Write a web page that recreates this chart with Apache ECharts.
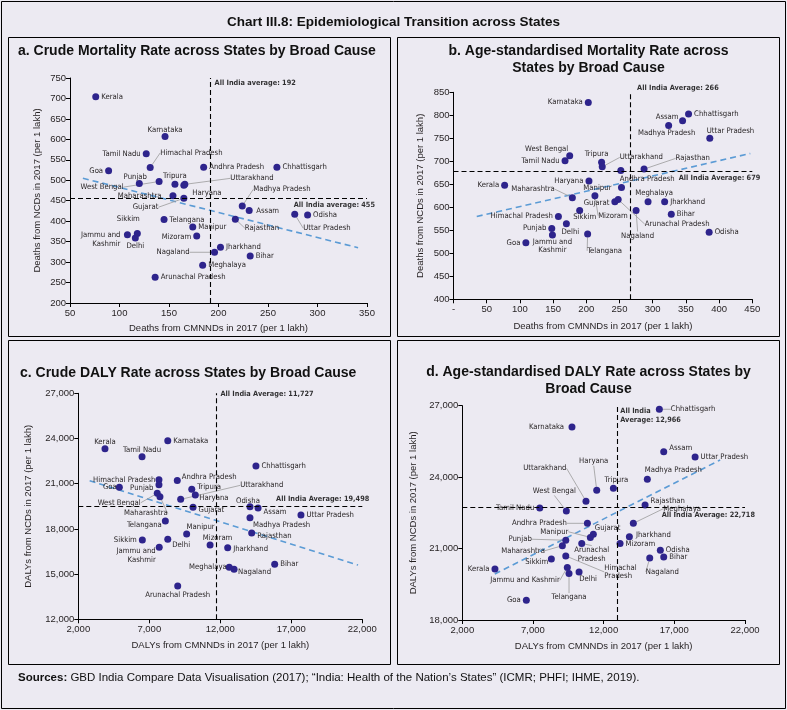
<!DOCTYPE html>
<html><head><meta charset="utf-8">
<script src="https://cdn.jsdelivr.net/npm/echarts/dist/echarts.min.js"></script>
<style>html,body{margin:0;padding:0;background:#eceaf2;}#c{width:787px;height:710px;}</style>
</head><body><div id="c"></div>
<script>
// ---------- DATA ----------
const states = ['Kerala','Karnataka','Tamil Nadu','Himachal Pradesh','Goa','Punjab','West Bengal','Tripura','Haryana','Uttarakhand','Maharashtra','Gujarat','Andhra Pradesh','Chhattisgarh','Madhya Pradesh','Assam','Odisha','Uttar Pradesh','Telangana','Manipur','Rajasthan','Sikkim','Jammu and Kashmir','Delhi','Mizoram','Jharkhand','Nagaland','Bihar','Meghalaya','Arunachal Pradesh'];

// a. Crude mortality (per 1 lakh)
const crudeDeathCMNND = [76,146,127,131,89,120,140,156,165,166,154,165,185,259,224,231,290,277,145,174,217,118,108,116,178,202,196,232,184,136];
const crudeDeathNCD   = [704,607,565,531,523,492,497,490,488,490,462,456,532,532,437,426,415,417,404,386,405,370,367,359,364,336,324,315,292,263];
// b. Age-standardised mortality
const ageDeathCMNND = [77,203,168,158,109,148,175,223,204,224,179,243,252,354,324,345,385,386,202,253,287,190,149,170,213,318,275,328,293,248];
const ageDeathNCD   = [648,828,701,580,523,554,712,698,657,688,621,612,680,803,778,788,546,750,542,643,683,593,540,564,625,612,593,585,612,617];
// c. Crude DALY rate
const crudeDalyCMNND = [3880,8300,6490,7680,4890,7680,7560,9990,10240,9210,7750,10080,8970,14510,14090,14660,14090,17680,8130,9630,14210,6510,7700,8300,11280,12520,12970,15830,12630,9000];
const crudeDalyNCD   = [23320,23850,22790,21260,20760,20930,20360,20630,20250,19960,20140,19430,21220,22170,18740,19390,19470,18920,18520,17660,17730,17260,16780,17310,16930,16750,15320,15650,15450,14210];
// d. Age-standardised DALY rate
const ageDalyCMNND = [4310,9760,7480,9320,6530,9320,9360,12690,11510,10750,9080,11270,10850,15940,15090,16250,16010,18470,9550,11060,14930,8300,9430,10260,13160,13820,15260,16250,14100,10450];
const ageDalyNCD   = [20140,26110,22700,20690,18830,21350,22580,23530,23450,22990,21120,21600,22060,26850,23910,25070,20930,24850,19950,21470,22830,20560,20210,20020,21210,21500,20600,20650,22060,21210];

// All India averages [CMNND, NCD]
const avgA = [192, 455];
const avgB = [266, 679];
const avgC = [11727, 19498];
const avgD = [12966, 22718];

// Trend line end points
const trendA = [[63,505],[341,335]];
const trendB = [[35,580],[447,717]];
const trendC = [[2800,21200],[21700,15600]];
const trendD = [[4300,19930],[20240,24720]];

// Axis scales [min, max, interval]
const xScaleA = [50,350,50],   yScaleA = [200,750,50];
const xScaleB = [0,450,50],    yScaleB = [400,850,50];
const xScaleC = [2000,22000,5000], yScaleC = [12000,27000,3000];
const xScaleD = [2000,22000,5000], yScaleD = [18000,27000,3000];

// ---------- LABEL PLACEMENT (style) ----------
const LA = {'Kerala':['right'],'Karnataka':['top',0,3.5],'Tamil Nadu':['left'],'Himachal Pradesh':['right',4.5,-14.7,1],'Goa':['left'],'Punjab':['top',-4,3],'West Bengal':['left',-30,5.6,1],'Tripura':['top',0,1],'Haryana':['right',3,7.5],'Uttarakhand':['right',40,-6,1],'Maharashtra':['left',-6,0],'Gujarat':['left',-20,9,1],'Andhra Pradesh':['right'],'Chhattisgarh':['right'],'Madhya Pradesh':['right',5.5,-16.7,1],'Assam':['right',1.5,0],'Odisha':['right'],'Uttar Pradesh':['right',3,14,1],'Telangana':['right'],'Manipur':['right'],'Rajasthan':['right',4,9,1],'Sikkim':['top',-9,-4.5],'Jammu and Kashmir':['left',-1.5,5],'Delhi':['bottom',0,-2],'Mizoram':['left',0,1.5],'Jharkhand':['right'],'Nagaland':['left',-19.5,0,1],'Bihar':['right'],'Meghalaya':['right'],'Arunachal Pradesh':['right']};
const LB = {'Kerala':['left'],'Karnataka':['left'],'Tamil Nadu':['left'],'West Bengal':['left',4,-6.4],'Haryana':['left'],'Maharashtra':['left',-12,-8.4,1],'Tripura':['top',-5,2],'Uttarakhand':['right',12,-9.4,1],'Andhra Pradesh':['right',-6.5,8.3],'Manipur':['left',-4.5,0],'Rajasthan':['right',26,-10.7,1],'Meghalaya':['top',6,1.5],'Jharkhand':['right'],'Gujarat':['left',0,1],'Mizoram':['bottom',18,10,1],'Arunachal Pradesh':['right',21,24.6,1],'Nagaland':['bottom',1.5,15.5,1],'Chhattisgarh':['right'],'Assam':['left',1.5,-4],'Madhya Pradesh':['bottom',-2,-2],'Uttar Pradesh':['top',20.7,3],'Bihar':['right'],'Odisha':['right'],'Himachal Pradesh':['left'],'Sikkim':['bottom',5,-3],'Delhi':['bottom',4,-2],'Punjab':['left'],'Jammu and Kashmir':['bottom',0,-3],'Goa':['left'],'Telangana':['bottom',17,7,1]};
const LC = {'Kerala':['top',0,3],'Karnataka':['right'],'Tamil Nadu':['top',0,3],'Himachal Pradesh':['left',2,0],'Punjab':['left',0,3],'Goa':['left',3,0],'Andhra Pradesh':['right',-1,-3],'West Bengal':['left',-11,9.4,1],'Maharashtra':['bottom',-14,7,1],'Tripura':['right',0,-2.6],'Haryana':['right',-1.5,3],'Uttarakhand':['right',54,-14,1],'Gujarat':['right',0,3],'Chhattisgarh':['right'],'Odisha':['top',-2,4],'Assam':['right',0,4],'Uttar Pradesh':['right'],'Telangana':['left',2,4],'Manipur':['top',14,3],'Mizoram':['top',7.5,3],'Madhya Pradesh':['right',-2.5,7],'Rajasthan':['right',0,3],'Jharkhand':['right',0,1],'Sikkim':['left'],'Delhi':['right',-1,6],'Jammu and Kashmir':['left',2,8],'Meghalaya':['left',3,0],'Nagaland':['right',-1.5,3],'Bihar':['right'],'Arunachal Pradesh':['bottom',0,-1]};
const LD = {'Karnataka':['left',-2.5,0],'Haryana':['top',-3,-19,1],'Uttarakhand':['left',-14,-33,1],'West Bengal':['top',-12,-10,1],'Tamil Nadu':['left'],'Andhra Pradesh':['left',-15,0,1],'Chhattisgarh':['right',6,0,1],'Assam':['right',0,-3.4],'Uttar Pradesh':['right'],'Madhya Pradesh':['top',26,1],'Tripura':['top',3,1.5],'Rajasthan':['right',0,-4.3],'Meghalaya':['right',24.5,-14.6,1],'Gujarat':['right',-4,-6],'Manipur':['left',-16.5,-5.6,1],'Punjab':['left',-28.5,-1,1],'Maharashtra':['left',-12,5,1],'Jharkhand':['right',1,-2],'Mizoram':['right'],'Arunachal Pradesh':['bottom',10,-3.5,1],'Odisha':['right'],'Bihar':['right'],'Nagaland':['bottom',12.6,4,1],'Sikkim':['left',2.5,3],'Himachal Pradesh':['right',33,16,1],'Jammu and Kashmir':['left',-2,13,1],'Telangana':['bottom',0,14,1],'Delhi':['bottom',9,-2.5],'Kerala':['left'],'Goa':['left']};

const jk2 = {'Jammu and Kashmir':'Jammu and\nKashmir'};
const fmtComma = v => Number(v).toLocaleString('en-US');

const LABEL_FONT = "'Liberation Sans Narrow','Arial Narrow','DejaVu Sans Condensed',sans-serif";
const AXIS_FONT = "'Liberation Sans',Arial,sans-serif";
const INK = '#231f20';
const DOT = '#2e248c';
const TREND = '#5b9bd5';

const panels = [
  {xs:crudeDeathCMNND, ys:crudeDeathNCD, trend:trendA, avg:avgA, xs_:xScaleA, ys_:yScaleA, layout:LA, text:jk2,
   vText:'All India average: '+avgA[0], hText:'All India average: '+avgA[1], vOff:[2,5], hOff:[10,6],
   grid:{left:70,top:78,width:297,height:225}, xFmt:v=>v, yFmt:v=>v,
   xName:'Deaths from CMNNDs in 2017 (per 1 lakh)', yName:'Deaths from NCDs in 2017 (per 1 lakh)', xGap:20, yGap:28},
  {xs:ageDeathCMNND, ys:ageDeathNCD, trend:trendB, avg:avgB, xs_:xScaleB, ys_:yScaleB, layout:LB, text:jk2,
   vText:'All India Average: '+avgB[0], hText:'All India Average: '+avgB[1], vOff:[5,-4], hOff:[10,7],
   grid:{left:453.5,top:92.3,width:298.8,height:207}, xFmt:v=>(v===0?'-':v), yFmt:v=>v,
   xName:'Deaths from CMNNDs in 2017 (per 1 lakh)', yName:'Deaths from NCDs in 2017 (per 1 lakh)', xGap:22, yGap:28},
  {xs:crudeDalyCMNND, ys:crudeDalyNCD, trend:trendC, avg:avgC, xs_:xScaleC, ys_:yScaleC, layout:LC, text:jk2,
   vText:'All India Average: '+fmtComma(avgC[0]), hText:'All India Average: '+fmtComma(avgC[1]), vOff:[2,1], hOff:[9,-7],
   grid:{left:78.3,top:393.3,width:284,height:226}, xFmt:fmtComma, yFmt:fmtComma,
   xName:'DALYs from CMNNDs in 2017 (per 1 lakh)', yName:'DALYs from NCDs in 2017 (per 1 lakh)', xGap:21, yGap:45},
  {xs:ageDalyCMNND, ys:ageDalyNCD, trend:trendD, avg:avgD, xs_:xScaleD, ys_:yScaleD, layout:LD,
   text:{'Arunachal Pradesh':'Arunachal\nPradesh','Himachal Pradesh':'Himachal\nPradesh'},
   vText:'All India\nAverage: '+fmtComma(avgD[0]), hText:'All India Average: '+fmtComma(avgD[1]), vOff:[1,10], hOff:[12,7],
   grid:{left:462.3,top:405.7,width:282.7,height:214.3}, xFmt:fmtComma, yFmt:fmtComma,
   xName:'DALYs from CMNNDs in 2017 (per 1 lakh)', yName:'DALYs from NCDs in 2017 (per 1 lakh)', xGap:21, yGap:44}
];

const grid=[], xAxis=[], yAxis=[], series=[];
const axisCommon = {
  axisLine:{show:true, onZero:false, lineStyle:{color:'#000', width:1}},
  axisTick:{show:true, length:4, lineStyle:{color:'#000'}},
  splitLine:{show:false},
  nameLocation:'middle',
  nameTextStyle:{fontSize:9.5, fontFamily:AXIS_FONT, color:INK}
};
panels.forEach((p,k)=>{
  grid.push(Object.assign({containLabel:false}, p.grid));
  xAxis.push(Object.assign({}, axisCommon, {gridIndex:k, type:'value', min:p.xs_[0], max:p.xs_[1], interval:p.xs_[2],
    name:p.xName, nameGap:p.xGap,
    axisLabel:{fontSize:9.5, fontFamily:AXIS_FONT, color:INK, margin:5, formatter:p.xFmt}}));
  yAxis.push(Object.assign({}, axisCommon, {gridIndex:k, type:'value', min:p.ys_[0], max:p.ys_[1], interval:p.ys_[2],
    name:p.yName, nameGap:p.yGap, nameRotate:90,
    axisLabel:{fontSize:9.5, fontFamily:AXIS_FONT, color:INK, margin:4, formatter:p.yFmt}}));
  // trend + average lines
  series.push({type:'line', xAxisIndex:k, yAxisIndex:k, data:p.trend, symbol:'none', silent:true, z:2,
    lineStyle:{color:TREND, width:1.6, type:[6,4]},
    markLine:{silent:true, symbol:['none','none'], label:{show:false}, animation:false,
      lineStyle:{color:'#000', width:1.1, type:[5,3]},
      data:[{xAxis:p.avg[0]},{yAxis:p.avg[1]}]}});
  // states
  series.push({type:'scatter', xAxisIndex:k, yAxisIndex:k, symbolSize:7, z:3,
    itemStyle:{color:DOT, opacity:1},
    data:states.map((n,i)=>{
      const l = p.layout[n] || ['right'];
      return {name:n, value:[p.xs[i], p.ys[i]], label:{position:l[0]}, labelLine:{show:!!l[3]}};
    }),
    label:{show:true, distance:2, fontSize:7.7, lineHeight:8.7, fontFamily:LABEL_FONT, color:INK,
      formatter:prm => p.text[prm.name] || prm.name},
    labelLine:{show:false, smooth:false, lineStyle:{color:'#9a9a9a', width:0.8}},
    labelLayout: prm => { const l = p.layout[states[prm.dataIndex]] || []; return {dx:l[1]||0, dy:l[2]||0}; }
  });
  // average labels
  series.push({type:'scatter', xAxisIndex:k, yAxisIndex:k, symbolSize:0, silent:true, z:4,
    itemStyle:{color:'rgba(0,0,0,0)'},
    label:{show:true, distance:2, fontSize:7.3, lineHeight:9, fontWeight:'bold', fontFamily:LABEL_FONT, color:'#000'},
    data:[
      {value:[p.avg[0], p.ys_[1]], label:{position:'right', offset:p.vOff, formatter:p.vText}},
      {value:[p.xs_[1], p.avg[1]], label:{position:'left', offset:p.hOff, formatter:p.hText}}
    ]});
});

const TFONT = "'Liberation Sans',Arial,sans-serif";
function txt(text, x, y, size, align, weight){
  return {type:'text', x:x, y:y, silent:true,
    style:{text:text, fill:'#111', font:(weight||'bold')+' '+size+'px '+TFONT, align:align, textAlign:align, verticalAlign:'middle', textVerticalAlign:'middle', lineHeight:17}};
}
const graphic = [
  {type:'rect', shape:{x:1.5,y:1.5,width:784,height:707}, style:{fill:'none', stroke:'#000', lineWidth:1}, silent:true},
  {type:'rect', shape:{x:8.5,y:37.5,width:382,height:299}, style:{fill:'none', stroke:'#000', lineWidth:1}, silent:true},
  {type:'rect', shape:{x:397.5,y:37.5,width:382,height:299}, style:{fill:'none', stroke:'#000', lineWidth:1}, silent:true},
  {type:'rect', shape:{x:8.5,y:340.5,width:382,height:324}, style:{fill:'none', stroke:'#000', lineWidth:1}, silent:true},
  {type:'rect', shape:{x:397.5,y:340.5,width:382,height:324}, style:{fill:'none', stroke:'#000', lineWidth:1}, silent:true},
  txt('Chart III.8: Epidemiological Transition across States', 393.5, 22, 13.5, 'center'),
  txt('a. Crude Mortality Rate across States by Broad Cause', 18, 51, 14, 'left'),
  txt('b. Age-standardised Mortality Rate across\nStates by Broad Cause', 588.5, 59.5, 14, 'center'),
  txt('c. Crude DALY Rate across States by Broad Cause', 20, 373, 14, 'left'),
  txt('d. Age-standardised DALY Rate across States by\nBroad Cause', 588.5, 381, 14, 'center'),
  {type:'text', x:18, y:678, silent:true,
   style:{text:'{b|Sources:} GBD India Compare Data Visualisation (2017); \u201cIndia: Health of the Nation\u2019s States\u201d (ICMR; PHFI; IHME, 2019).',
     fill:'#111', font:'11.5px '+TFONT, verticalAlign:'middle', textVerticalAlign:'middle',
     rich:{b:{fontWeight:'bold', fontSize:11.5, fontFamily:TFONT, fill:'#111'}}}}
];

const chart = echarts.init(document.getElementById('c'));
chart.setOption({backgroundColor:'#eceaf2', animation:false, grid, xAxis, yAxis, series, graphic});
</script>
</body></html>
